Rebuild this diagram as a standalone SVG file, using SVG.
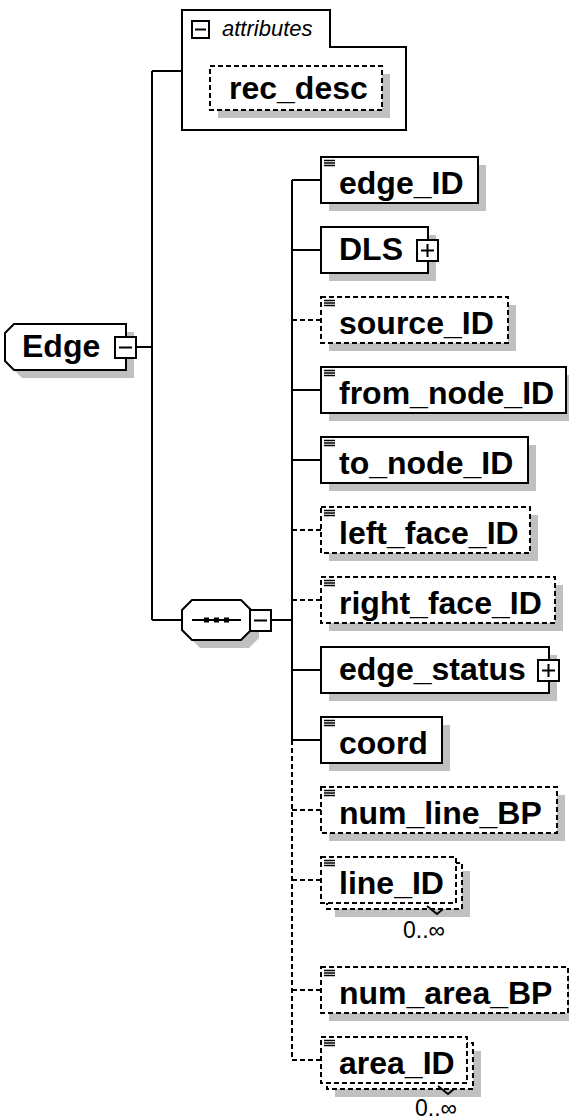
<svg xmlns="http://www.w3.org/2000/svg" width="569" height="1120" viewBox="0 0 569 1120">
<style>
.box{fill:#fff;stroke:#000;stroke-width:2}
.opt{fill:#fff;stroke:#000;stroke-width:2;stroke-dasharray:5 3}
.sh{fill:#c0c0c0;stroke:none}
.ln{stroke:#000;stroke-width:2;fill:none}
.dl{stroke:#000;stroke-width:2;fill:none;stroke-dasharray:5 3}
.t{font-family:"Liberation Sans",Arial,sans-serif;font-weight:bold;font-size:32px;fill:#000}
.it{font-family:"Liberation Sans",Arial,sans-serif;font-style:italic;font-size:22px;fill:#000}
.m{font-family:"Liberation Sans","DejaVu Sans",Arial,sans-serif;font-size:23px;fill:#000}
.ic{stroke:#000;stroke-width:1.3;fill:none}
</style>
<defs>
<g id="icon"><path class="ic" d="M0,0.5h11M0,3h11M0,5.5h11"/></g>
<g id="plus"><rect class="box" x="0" y="0" width="21" height="21"/><path class="ln" d="M4,10.5h13M10.5,4v13"/></g>
<g id="minus"><rect class="box" x="0" y="0" width="21" height="21"/><path class="ln" d="M4,10.5h13"/></g>
</defs>
<rect width="569" height="1120" fill="#fff"/>

<g id="connectors">
<path class="ln" d="M136,347H152M152,71V620M152,71H182M152,620H182M271,620H292M292,180V740"/>
<path class="dl" d="M292,740V1060"/>
<path class="ln" d="M292,180H321M292,250H321M292,390H321M292,460H321M292,670H321M292,740H321"/>
<path class="dl" d="M292,320H321M292,530H321M292,600H321M292,810H321M292,880H321M292,990H321M292,1060H321"/>
</g>

<g id="attributes">
<path class="box" d="M182,130V10H330V47H406V130Z"/>
<rect class="box" x="192" y="21" width="17" height="17"/>
<path class="ln" d="M195,29.5h11"/>
<text class="it" x="222" y="36">attributes</text>
</g>
<g id="rec_desc">
<rect class="sh" x="218" y="74" width="172" height="44"/>
<rect class="opt" x="210" y="66" width="172" height="44"/>
<text class="t" x="229" y="99">rec_desc</text>
</g>

<g id="Edge">
<polygon class="sh" points="13,341 22,332 134,332 134,378 22,378 13,369"/>
<polygon class="box" points="5,333 14,324 126,324 126,370 14,370 5,361"/>
<use href="#minus" x="115" y="337"/>
<text class="t" x="22" y="357">Edge</text>
</g>

<g id="sequence">
<polygon class="sh" points="190,618 200,608 249,608 259,618 259,638 249,648 200,648 190,638"/>
<polygon class="box" points="182,610 192,600 241,600 251,610 251,630 241,640 192,640 182,630"/>
<path class="ln" d="M192,620H241"/>
<rect x="204" y="617.5" width="5" height="5"/>
<rect x="214" y="617.5" width="5" height="5"/>
<rect x="224" y="617.5" width="5" height="5"/>
<use href="#minus" x="250" y="610"/>
</g>

<g id="edge_ID">
<rect class="sh" x="329" y="165" width="157" height="46"/>
<rect class="box" x="321" y="157" width="157" height="46"/>
<use href="#icon" x="324" y="160"/>
<text class="t" x="339" y="194">edge_ID</text>
</g>
<g id="DLS">
<rect class="sh" x="329" y="235" width="107" height="46"/>
<rect class="box" x="321" y="227" width="107" height="46"/>
<use href="#plus" x="417" y="240"/>
<text class="t" x="339" y="260">DLS</text>
</g>
<g id="source_ID">
<rect class="sh" x="329" y="305" width="187" height="46"/>
<rect class="opt" x="321" y="297" width="187" height="46"/>
<use href="#icon" x="324" y="300"/>
<text class="t" x="339" y="334">source_ID</text>
</g>
<g id="from_node_ID">
<rect class="sh" x="329" y="375" width="245" height="46"/>
<rect class="box" x="321" y="367" width="245" height="46"/>
<use href="#icon" x="324" y="370"/>
<text class="t" x="339" y="404">from_node_ID</text>
</g>
<g id="to_node_ID">
<rect class="sh" x="329" y="445" width="207" height="46"/>
<rect class="box" x="321" y="437" width="207" height="46"/>
<use href="#icon" x="324" y="440"/>
<text class="t" x="339" y="474">to_node_ID</text>
</g>
<g id="left_face_ID">
<rect class="sh" x="329" y="515" width="209" height="46"/>
<rect class="opt" x="321" y="507" width="209" height="46"/>
<use href="#icon" x="324" y="510"/>
<text class="t" x="339" y="544">left_face_ID</text>
</g>
<g id="right_face_ID">
<rect class="sh" x="329" y="585" width="234" height="46"/>
<rect class="opt" x="321" y="577" width="234" height="46"/>
<use href="#icon" x="324" y="580"/>
<text class="t" x="339" y="614">right_face_ID</text>
</g>
<g id="edge_status">
<rect class="sh" x="329" y="655" width="228" height="46"/>
<rect class="box" x="321" y="647" width="228" height="46"/>
<use href="#plus" x="538" y="660"/>
<text class="t" x="339" y="680">edge_status</text>
</g>
<g id="coord">
<rect class="sh" x="329" y="725" width="121" height="46"/>
<rect class="box" x="321" y="717" width="121" height="46"/>
<use href="#icon" x="324" y="720"/>
<text class="t" x="339" y="754">coord</text>
</g>
<g id="num_line_BP">
<rect class="sh" x="329" y="795" width="236" height="46"/>
<rect class="opt" x="321" y="787" width="236" height="46"/>
<use href="#icon" x="324" y="790"/>
<text class="t" x="339" y="824">num_line_BP</text>
</g>
<g id="line_ID">
<rect class="sh" x="335" y="871" width="135" height="46"/>
<rect class="opt" x="327" y="863" width="135" height="46"/>
<rect class="opt" x="321" y="857" width="135" height="46"/>
<use href="#icon" x="324" y="860"/>
<text class="t" x="339" y="894">line_ID</text>
<path class="ln" stroke-width="1.5" d="M427,906L437,914L443,909"/>
<text class="m" x="445" y="938" text-anchor="end">0..∞</text>
</g>
<g id="num_area_BP">
<rect class="sh" x="329" y="975" width="247" height="46"/>
<rect class="opt" x="321" y="967" width="247" height="46"/>
<use href="#icon" x="324" y="970"/>
<text class="t" x="339" y="1004">num_area_BP</text>
</g>
<g id="area_ID">
<rect class="sh" x="335" y="1051" width="146" height="46"/>
<rect class="opt" x="327" y="1043" width="146" height="46"/>
<rect class="opt" x="321" y="1037" width="146" height="46"/>
<use href="#icon" x="324" y="1040"/>
<text class="t" x="339" y="1074">area_ID</text>
<path class="ln" stroke-width="1.5" d="M438,1086L448,1094L454,1089"/>
<text class="m" x="457" y="1116" text-anchor="end">0..∞</text>
</g>
</svg>
